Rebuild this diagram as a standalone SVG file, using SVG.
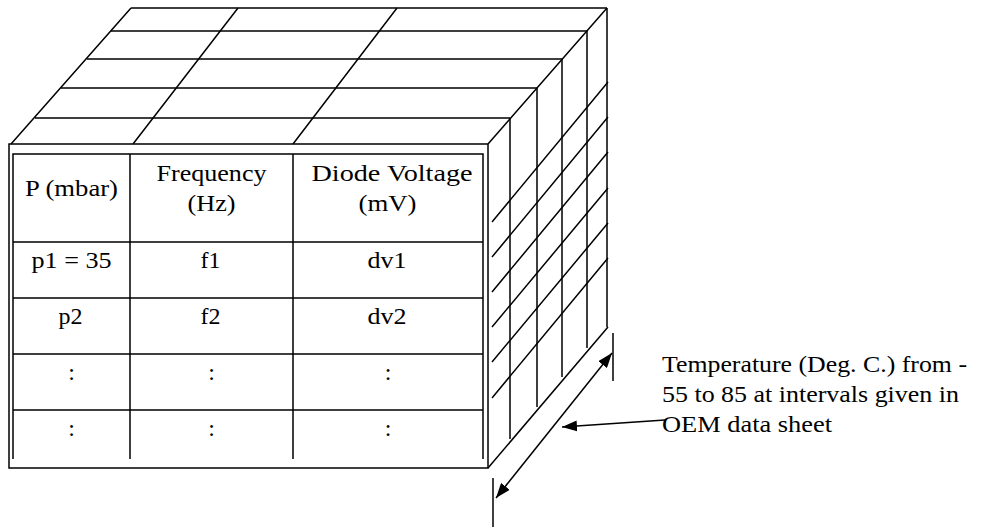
<svg xmlns="http://www.w3.org/2000/svg" width="982" height="529" viewBox="0 0 982 529">
<defs>
<style>
.ln{stroke:#000;stroke-width:1.5;fill:none;stroke-linecap:butt}
.tb{font-size:24px;text-anchor:middle}
.lb{font-size:23px}
</style>
<marker id="ah" viewBox="0 0 15 11" refX="15" refY="5.5" markerWidth="15" markerHeight="11" markerUnits="userSpaceOnUse" orient="auto-start-reverse">
<path d="M0,0 L15,5.5 L0,11 z" fill="#000"/>
</marker>
</defs>
<rect width="982" height="529" fill="#fff"/>

<g id="top-face" class="ln">
<path d="M131,8 H607 M111,31 H587 M87,59 H562 M61,88 H537 M35,118 H510"/>
<path d="M11,144 L131,8 M488,144 L607,8 M133,144 L238,8 M293,144 L397,8"/>
</g>

<g id="right-face" class="ln">
<path d="M510,118 V439 M537,88 V407 M562,59 V377 M587,31 V348 M607,8 V327"/>
<path d="M488,468 L608,327"/>
<path d="M492,222 L608,82 M492,257 L608,117 M492,292 L608,152 M492,327 L608,188 M492,362 L608,223 M492,398 L608,258"/>
</g>

<g id="front-face">
<rect class="ln" x="9" y="144" width="479" height="324"/>
<path class="ln" d="M13,459 V154 H483 V459 M130,154 V459 M293,154 V459 M13,242 H483 M13,298 H483 M13,354 H483 M13,410 H483"/>
<g class="tb" font-family="Liberation Serif, Times New Roman, serif" fill="#000">
<text x="71.5" y="196" textLength="93" lengthAdjust="spacingAndGlyphs">P (mbar)</text>
<text x="211.5" y="181" textLength="110" lengthAdjust="spacingAndGlyphs">Frequency</text>
<text x="211.5" y="211" textLength="48" lengthAdjust="spacingAndGlyphs">(Hz)</text>
<text x="392" y="181" textLength="161" lengthAdjust="spacingAndGlyphs">Diode Voltage</text>
<text x="387.5" y="211" textLength="58" lengthAdjust="spacingAndGlyphs">(mV)</text>
<text x="71.5" y="268" textLength="80" lengthAdjust="spacingAndGlyphs">p1 = 35</text>
<text x="210.5" y="268">f1</text>
<text x="387" y="268" textLength="39" lengthAdjust="spacingAndGlyphs">dv1</text>
<text x="70.5" y="324">p2</text>
<text x="210.5" y="324">f2</text>
<text x="387" y="324" textLength="39" lengthAdjust="spacingAndGlyphs">dv2</text>
<text x="71.5" y="380">:</text>
<text x="211.5" y="380">:</text>
<text x="388" y="380">:</text>
<text x="71.5" y="436">:</text>
<text x="211.5" y="436">:</text>
<text x="388" y="436">:</text>
</g>
</g>

<g id="temperature-label" class="lb" font-family="Liberation Serif, Times New Roman, serif" fill="#000">
<text x="662" y="372" textLength="305" lengthAdjust="spacingAndGlyphs">Temperature (Deg. C.) from -</text>
<text x="662" y="402" textLength="297" lengthAdjust="spacingAndGlyphs">55 to 85 at intervals given in</text>
<text x="662" y="432" textLength="170" lengthAdjust="spacingAndGlyphs">OEM data sheet</text>
</g>

<g id="connectors" class="ln">
<line x1="613" y1="333" x2="613" y2="381"/>
<line x1="493" y1="478" x2="493" y2="527"/>
<line x1="496" y1="498" x2="612" y2="353" marker-start="url(#ah)" marker-end="url(#ah)"/>
<line x1="665" y1="420" x2="562" y2="427" marker-end="url(#ah)"/>
</g>
</svg>
